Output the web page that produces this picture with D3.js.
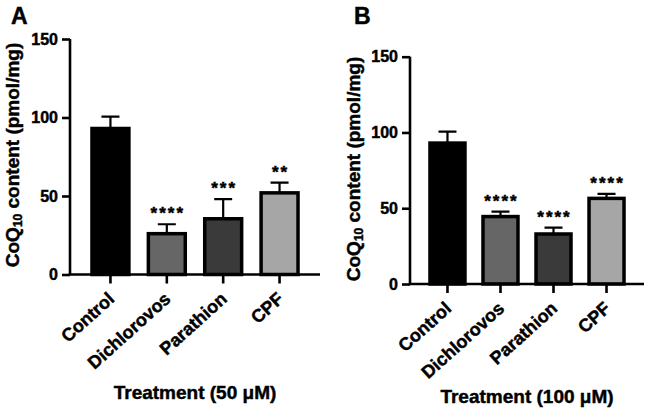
<!DOCTYPE html>
<html><head><meta charset="utf-8">
<script src="https://cdn.jsdelivr.net/npm/d3@7"></script>
<style>body{margin:0;background:#fff}svg{display:block}text{font-family:"Liberation Sans",Arial,sans-serif;font-weight:bold;fill:#000;stroke:#000;stroke-width:0.45px}</style>
</head><body><svg id="c" width="646" height="412"></svg>
<script>
const categories = ["Control", "Dichlorovos", "Parathion", "CPF"];
const fills = ["#000000", "#666666", "#3a3a3a", "#a6a6a6"];
const yTicks = [0, 50, 100, 150];
// Panel A: 50 µM
const meansA = [93, 26, 35.5, 52];
const errA = [7.5, 6, 12.5, 6.5];
const starsA = ["", "****", "***", "**"];
// Panel B: 100 µM
const meansB = [93, 44.5, 33, 56.5];
const errB = [7.5, 3.3, 4.2, 3];
const starsB = ["", "****", "****", "****"];

const svg = d3.select("#c");

function panel(o) {
  const g = svg.append("g");
  const y = d3.scaleLinear().domain([0, 150]).range([o.y0, o.y150]);
  const x = d3.scaleBand().domain(categories).range([o.ax, o.xr])
    .paddingInner(o.pi).paddingOuter(o.po);
  // y axis
  const ya = g.append("g").attr("transform", `translate(${o.ax},0)`)
    .call(d3.axisLeft(y).tickValues(yTicks).tickSize(8).tickPadding(4));
  ya.select(".domain").attr("stroke-width", 2.6).attr("d", `M0,${o.y150}V${o.y0}`);
  ya.selectAll(".tick line").attr("stroke-width", 2.6);
  ya.selectAll(".tick text").style("font-size", "16px").style("font-family", "Liberation Sans, Arial").style("font-weight", "bold");
  // bars
  const data = categories.map((c, i) => ({c, m: o.means[i], e: o.err[i], s: o.stars[i], f: fills[i]}));
  const bw = x.bandwidth();
  g.selectAll("rect.bar").data(data).join("rect")
    .attr("x", d => x(d.c)).attr("width", bw)
    .attr("y", d => y(d.m)).attr("height", d => y(0) - y(d.m))
    .attr("fill", d => d.f).attr("stroke", "#000").attr("stroke-width", 3.5);
  // error bars (upper only)
  g.selectAll("path.err").data(data).join("path")
    .attr("d", d => {
      const cx = x(d.c) + bw / 2, t = y(d.m + d.e);
      return `M${cx},${y(d.m)}V${t}M${cx - 9},${t}H${cx + 9}`;
    })
    .attr("stroke", "#000").attr("stroke-width", 2.2).attr("fill", "none");
  // stars
  g.selectAll("text.star").data(data).join("text")
    .attr("x", d => x(d.c) + bw / 2 + 1).attr("y", d => y(d.m + d.e) - 5)
    .attr("text-anchor", "middle").style("font-size", "17px").style("letter-spacing", "2px")
    .text(d => d.s);
  // x axis
  const xa = g.append("g").attr("transform", `translate(0,${o.y0})`)
    .call(d3.axisBottom(x).tickSize(9).tickPadding(3));
  xa.select(".domain").attr("stroke-width", 2.6).attr("d", `M${o.ax - 1.3},0H${o.xr}`);
  xa.selectAll(".tick line").attr("stroke-width", 2.6);
  xa.selectAll(".tick text")
    .attr("text-anchor", "end").attr("dy", 0).attr("y", 0)
    .attr("transform", "translate(5,26) rotate(-42)")
    .style("font-size", "18px").style("font-family", "Liberation Sans, Arial").style("font-weight", "bold");
  // x title
  g.append("text").attr("x", o.xtx).attr("y", o.xty).attr("text-anchor", "middle")
    .style("font-size", "19px").text(o.xtitle);
  // y title
  const yt = g.append("text").attr("transform", `translate(${o.ytx},${o.yty}) rotate(-90)`)
    .attr("text-anchor", "middle").style("font-size", "19px");
  yt.append("tspan").text("CoQ");
  yt.append("tspan").attr("dy", 3).style("font-size", "12px").text("10");
  yt.append("tspan").attr("dy", -3).text(" content (pmol/mg)");
  // panel letter
  g.append("text").attr("x", o.lx).attr("y", o.ly).style("font-size", "23px").text(o.letter);
}

panel({ax: 70, xr: 320, y0: 274.5, y150: 39, pi: 0.345, po: 0.39,
  means: meansA, err: errA, stars: starsA, xtitle: "Treatment (50 μM)",
  xtx: 195, xty: 399, ytx: 18.5, yty: 155, letter: "A", lx: 11, ly: 24});
panel({ax: 410, xr: 644, y0: 284, y150: 56.7, pi: 0.34, po: 0.377,
  means: meansB, err: errB, stars: starsB, xtitle: "Treatment (100 μM)",
  xtx: 527, xty: 403, ytx: 360, yty: 169, letter: "B", lx: 354, ly: 24});
</script></body></html>
